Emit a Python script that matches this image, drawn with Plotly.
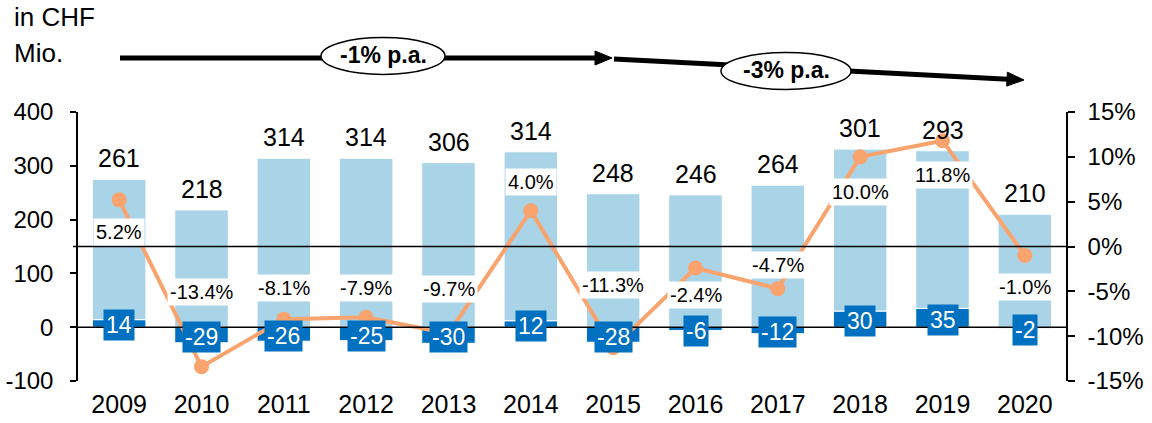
import plotly.graph_objects as go

# ---------------- data ----------------
years = [2009, 2010, 2011, 2012, 2013, 2014, 2015, 2016, 2017, 2018, 2019, 2020]
values = [261, 218, 314, 314, 306, 314, 248, 246, 264, 301, 293, 210]
deltas = [14, -29, -26, -25, -30, 12, -28, -6, -12, 30, 35, -2]
growth_pct = [5.2, -13.4, -8.1, -7.9, -9.7, 4.0, -11.3, -2.4, -4.7, 10.0, 11.8, -1.0]
left_ticks = [-100, 0, 100, 200, 300, 400]
right_ticks = [-15, -10, -5, 0, 5, 10, 15]
cagr_labels = ["-1% p.a.", "-3% p.a."]
unit_lines = ["in CHF", "Mio."]

# label placement (in left-axis units) for the growth labels
pct_label_pos = [177, 66, 72, 72, 71, 270, 78, 59, 115, 251, 283, 75]

# ---------------- styles ----------------
LIGHT = "#A9D3E6"
DARK = "#0070C0"
ORANGE = "#F9A46E"
FONT = "Liberation Sans, Arial, sans-serif"

W, H = 1152, 423
L, R, T, B = 78, 1066, 112, 381


def px_x(px):
    return (px - L) / (R - L)


def px_y(py):
    return (B - py) / (B - T)


fig = go.Figure()
fig.add_trace(go.Bar(x=years, y=deltas, marker_color=DARK,
                     marker_line_color="white", marker_line_width=1,
                     hoverinfo="skip", showlegend=False))
fig.add_trace(go.Bar(x=years, y=values, marker_color=LIGHT,
                     marker_line_color="white", marker_line_width=1,
                     hoverinfo="skip", showlegend=False))
fig.add_trace(go.Scatter(x=years, y=growth_pct, yaxis="y2",
                         mode="lines+markers",
                         line=dict(color=ORANGE, width=4),
                         marker=dict(color=ORANGE, size=15),
                         hoverinfo="skip", showlegend=False))

annotations = []
# totals above the stacks
for yr, v, d in zip(years, values, deltas):
    top = v + max(d, 0)
    annotations.append(dict(x=yr, y=top, xref="x", yref="y", text=str(v),
                            showarrow=False, yanchor="middle", yshift=21,
                            font=dict(size=25, color="black", family=FONT)))
# delta boxes
for yr, d in zip(years, deltas):
    annotations.append(dict(x=yr, y=d / 2, xref="x", yref="y", text=str(d),
                            showarrow=False, yanchor="middle", yshift=-2,
                            bgcolor=DARK, borderpad=2,
                            font=dict(size=23, color="white", family=FONT)))
# growth labels
for yr, p, pos in zip(years, growth_pct, pct_label_pos):
    annotations.append(dict(x=yr, y=pos, xref="x", yref="y", text=f"{p:.1f}%",
                            showarrow=False, yanchor="middle",
                            bgcolor="white", borderpad=2,
                            font=dict(size=20, color="black", family=FONT)))
# unit title
annotations.append(dict(x=px_x(12), y=px_y(17), xref="paper", yref="paper",
                        text=unit_lines[0], showarrow=False, xanchor="left",
                        yanchor="middle",
                        font=dict(size=26, color="black", family=FONT)))
annotations.append(dict(x=px_x(12), y=px_y(53), xref="paper", yref="paper",
                        text=unit_lines[1], showarrow=False, xanchor="left",
                        yanchor="middle",
                        font=dict(size=26, color="black", family=FONT)))

shapes = []
# 0% reference line (secondary axis zero) and primary zero line
shapes.append(dict(type="line", xref="paper", yref="y2", x0=px_x(73), x1=1,
                   y0=0, y1=0, line=dict(color="black", width=1.5), layer="above"))
shapes.append(dict(type="line", xref="paper", yref="y", x0=0, x1=1,
                   y0=0, y1=0, line=dict(color="black", width=1.5), layer="above"))


def arrow(x0, y0, x1, y1, head_len=17, head_half=7, width=5):
    dx, dy = x1 - x0, y1 - y0
    n = (dx * dx + dy * dy) ** 0.5
    ux, uy = dx / n, dy / n
    bx, by = x1 - head_len * ux, y1 - head_len * uy
    px_, py_ = -uy, ux
    out = [dict(type="line", xref="paper", yref="paper",
                x0=px_x(x0), y0=px_y(y0), x1=px_x(bx + ux), y1=px_y(by + uy),
                line=dict(color="black", width=width), layer="above")]
    p1 = (bx + head_half * px_, by + head_half * py_)
    p2 = (bx - head_half * px_, by - head_half * py_)
    path = (f"M {px_x(x1)} {px_y(y1)} L {px_x(p1[0])} {px_y(p1[1])} "
            f"L {px_x(p2[0])} {px_y(p2[1])} Z")
    out.append(dict(type="path", xref="paper", yref="paper", path=path,
                    fillcolor="black", line=dict(color="black", width=1),
                    layer="above"))
    return out


shapes += arrow(120, 58, 612, 58)
shapes += arrow(614, 59, 1024, 80)

ellipses = [(383, 56, 124, 37), (786, 71, 130, 37)]
for (cx, cy, ew, eh), lab in zip(ellipses, cagr_labels):
    shapes.append(dict(type="circle", xref="paper", yref="paper",
                       x0=px_x(cx - ew / 2), x1=px_x(cx + ew / 2),
                       y0=px_y(cy + eh / 2), y1=px_y(cy - eh / 2),
                       fillcolor="white", line=dict(color="black", width=1.5),
                       layer="above"))
    annotations.append(dict(x=px_x(cx), y=px_y(cy - 1), xref="paper", yref="paper",
                            text=f"<b>{lab}</b>", showarrow=False,
                            xanchor="center", yanchor="middle",
                            font=dict(size=23, color="black", family=FONT)))

fig.update_layout(
    width=W, height=H, autosize=False,
    margin=dict(l=L, r=W - R, t=T, b=H - B, autoexpand=False),
    paper_bgcolor="white", plot_bgcolor="white",
    barmode="relative", bargap=0.35,
    font=dict(family=FONT, size=24, color="black"),
    xaxis=dict(range=[min(years) - 0.5, max(years) + 0.5],
               tickvals=years, ticktext=[str(y) for y in years],
               showgrid=False, showline=False, ticks="", automargin=False,
               zeroline=False, tickfont=dict(size=25), ticklabelstandoff=6),
    yaxis=dict(range=[-100, 400], tickvals=left_ticks, automargin=False,
               ticktext=[str(t) for t in left_ticks], showgrid=False,
               zeroline=False, showline=True, linecolor="black", linewidth=1.5,
               ticks="outside", ticklen=6, tickwidth=1.5, tickcolor="black",
               tickfont=dict(size=24), ticklabelstandoff=12),
    yaxis2=dict(range=[-15, 15], tickvals=right_ticks, automargin=False,
                ticktext=[f"{t}%" for t in right_ticks], overlaying="y", side="right",
                showgrid=False, zeroline=False, showline=True, linecolor="black",
                linewidth=1.5, ticks="outside", ticklen=7, tickwidth=1.5,
                tickcolor="black", tickfont=dict(size=24),
                ticklabelstandoff=8),
    annotations=annotations,
    shapes=shapes,
)

fig.write_html("out.html",
               config={"displayModeBar": False},
               post_script="document.body.style.margin='0';"
                           "document.body.style.overflow='hidden';")
